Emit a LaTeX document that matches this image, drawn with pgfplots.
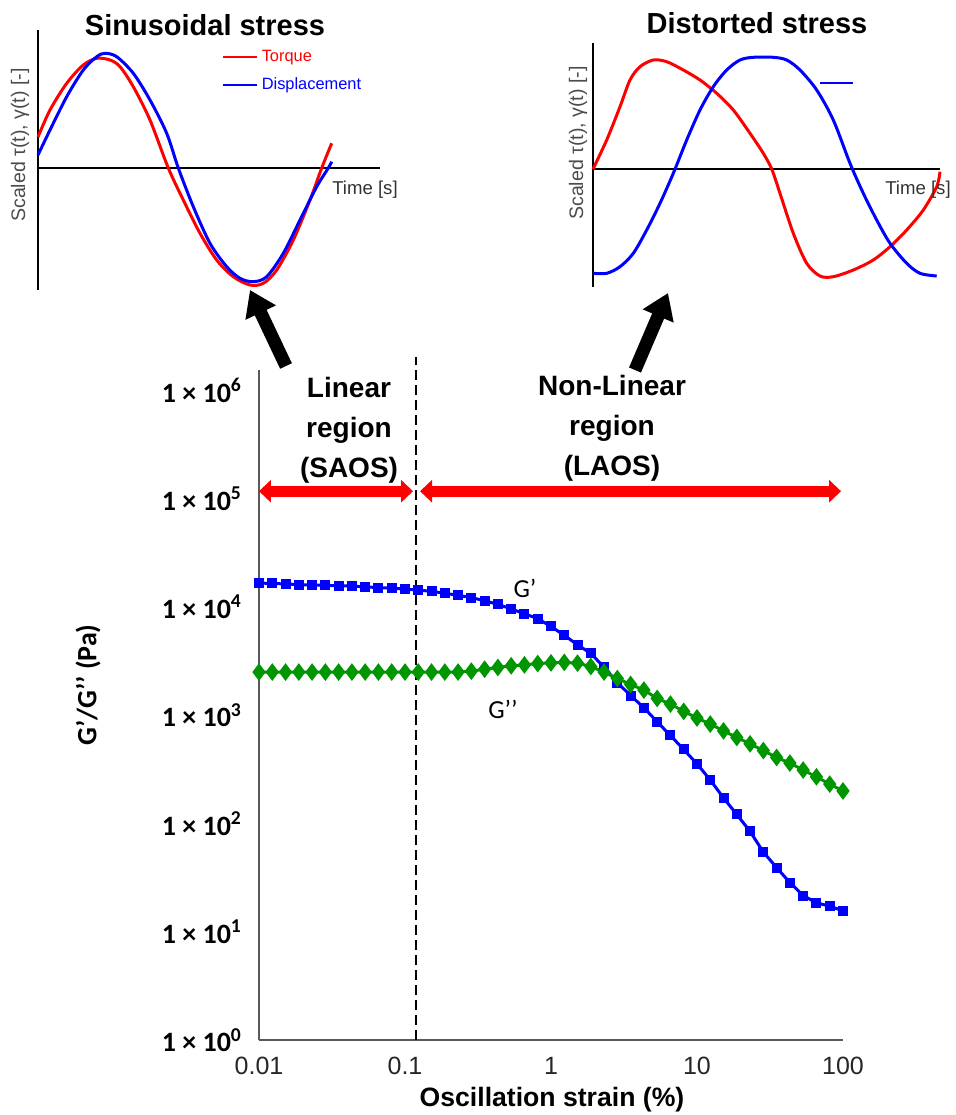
\documentclass[border=0pt]{standalone}
\usepackage{fontspec}
\setmainfont{Liberation Sans}
\newfontfamily\calib{Carlito}
\usepackage{pgfplots}
\pgfplotsset{compat=1.18}
\usetikzlibrary{arrows.meta}
\definecolor{gblue}{RGB}{0,0,255}
\definecolor{ggreen}{RGB}{0,150,0}
\definecolor{tred}{RGB}{255,0,0}
\newcommand\fsz[1]{\fontsize{#1}{#1}\selectfont}

\pgfplotsset{
  inset/.style={scale only axis, axis lines=middle,
    axis line style={-, line width=1pt, black},
    xtick=\empty, ytick=\empty, clip=false},
  wave/.style={line width=1.5pt, smooth, no markers},
}

\begin{document}
\begin{tikzpicture}
\path[use as bounding box] (0,0) rectangle (477.5pt,-557.5pt);

% ---------- left inset: sinusoidal stress
\begin{axis}[inset, at={(19pt,-145pt)}, anchor=south west,
  width=171pt, height=130pt, xmin=0, xmax=3.42, ymin=-1.22, ymax=1.38,
  legend style={at={(0.535,0.94)}, anchor=north west, draw=none, fill=none,
    font=\fsz{8.2}, row sep=2.5pt, inner sep=0pt},
  legend cell align=left,
  legend image code/.code={\draw[#1, line width=1.2pt] (0pt,0pt) -- (17pt,0pt);}]
\addplot[wave, tred] coordinates {(0,0.31)(0.12,0.58)(0.287,0.847)(0.453,1.03)(0.587,1.097)(0.72,1.08)(0.82,1.013)(0.953,0.813)(1.12,0.48)(1.303,0.0)(1.453,-0.32)(1.62,-0.653)(1.787,-0.92)(1.953,-1.087)(2.12,-1.17)(2.253,-1.153)(2.387,-1.02)(2.553,-0.72)(2.72,-0.32)(2.837,0.0)(2.937,0.247)};
\addlegendentry{\textcolor{tred}{Torque}}
\addplot[wave, gblue] coordinates {(0,0.13)(0.12,0.38)(0.287,0.713)(0.453,0.98)(0.587,1.113)(0.67,1.147)(0.787,1.113)(0.953,0.947)(1.12,0.68)(1.287,0.347)(1.403,0.0)(1.553,-0.387)(1.72,-0.753)(1.887,-0.987)(2.02,-1.103)(2.153,-1.137)(2.287,-1.087)(2.453,-0.853)(2.62,-0.52)(2.787,-0.187)(2.903,0.0)(2.937,0.063)};
\addlegendentry{\textcolor{gblue}{Displacement}}
\end{axis}

% ---------- right inset: distorted stress
\begin{axis}[inset, at={(296.5pt,-143.5pt)}, anchor=south west,
  width=173.5pt, height=122pt, xmin=0, xmax=3.47, ymin=-1.18, ymax=1.26]
\addplot[wave, tred] coordinates {(0,0)(0.137,0.29)(0.27,0.623)(0.37,0.89)(0.47,1.023)(0.603,1.09)(0.737,1.073)(0.903,0.99)(1.07,0.89)(1.237,0.757)(1.403,0.59)(1.57,0.357)(1.703,0.157)(1.787,0)(1.87,-0.243)(2.003,-0.643)(2.137,-0.943)(2.27,-1.07)(2.403,-1.077)(2.603,-1.01)(2.803,-0.91)(2.97,-0.777)(3.137,-0.61)(3.303,-0.41)(3.437,-0.177)(3.47,-0.027)};
\addplot[wave, gblue] coordinates {(0,-1.043)(0.137,-1.043)(0.27,-0.977)(0.403,-0.843)(0.537,-0.61)(0.67,-0.343)(0.803,-0.043)(0.937,0.29)(1.07,0.59)(1.203,0.823)(1.337,0.99)(1.47,1.09)(1.603,1.117)(1.803,1.117)(1.937,1.09)(2.07,0.99)(2.237,0.79)(2.403,0.49)(2.57,0.057)(2.703,-0.243)(2.837,-0.51)(2.97,-0.743)(3.137,-0.943)(3.27,-1.043)(3.437,-1.07)};
\addplot[gblue, line width=1.2pt, no markers] coordinates {(2.27,0.86)(2.60,0.86)};
\end{axis}

% inset texts
\node[font=\bfseries\fsz{14.5}] at (102.5pt,-12.5pt) {Sinusoidal stress};
\node[font=\bfseries\fsz{14.5}] at (378.5pt,-11.5pt) {Distorted stress};
\node[font=\fsz{9.8}, text=black!70, rotate=90] at (10pt,-72.5pt) {Scaled τ(t), γ(t) [-]};
\node[font=\fsz{9.8}, text=black!70, rotate=90] at (289pt,-71.5pt) {Scaled τ(t), γ(t) [-]};
\node[font=\fsz{9.3}, text=black!80] at (182.5pt,-95pt) {Time [s]};
\node[font=\fsz{9.3}, text=black!80] at (459pt,-95pt) {Time [s]};

% ---------- main axis
\begin{axis}[at={(129.5pt,-520pt)}, anchor=south west, scale only axis,
  width=292pt, height=335pt, xmode=log, ymode=log,
  xmin=0.01, xmax=100, ymin=1, ymax=1.54e6,
  axis x line*=bottom, axis y line*=left,
  axis line style={-, line width=1pt, black!65},
  tick style={draw=none}, minor tick num=0,
  xtick={0.01,0.1,1,10,100}, xticklabels={0.01,0.1,1,10,100},
  ytick={1,10,100,1000,10000,100000,1000000},
  yticklabels={1 × 10\textsuperscript{0},1 × 10\textsuperscript{1},1 × 10\textsuperscript{2},1 × 10\textsuperscript{3},1 × 10\textsuperscript{4},1 × 10\textsuperscript{5},1 × 10\textsuperscript{6}},
  xticklabel style={font=\fsz{12.5}, text=black!85, yshift=-5pt},
  yticklabel style={font=\calib\bfseries\fsz{14}, anchor=east, xshift=-5pt},
  clip=false]
\draw[line width=1pt, dash pattern=on 5pt off 2.5pt] (axis cs:0.119,1) -- (axis cs:0.119,2.03e6);
\addplot[gblue, line width=1.5pt, mark=square*, mark size=1.75pt] coordinates {
(0.01,16590)(0.01233,16450)(0.01520,16280)(0.01874,16070)(0.02310,15900)(0.02848,15800)(0.03511,15700)(0.04329,15560)(0.05337,15300)(0.06579,15070)(0.08111,14880)(0.1,14600)(0.1233,14290)(0.1520,13900)(0.1874,13380)(0.2310,12770)(0.2848,12190)(0.3511,11380)(0.4329,10570)(0.5337,9563)(0.6579,8655)(0.8111,7780)(1,6605)(1.233,5455)(1.520,4467)(1.874,3712)(2.310,2775)(2.848,1996)(3.511,1517)(4.329,1173)(5.337,867)(6.579,649)(8.111,482)(10,355)(12.33,252)(15.20,172)(18.74,121)(23.10,84.4)(28.48,54.4)(35.11,39.1)(43.29,28.4)(53.37,21.6)(65.79,18.5)(81.11,17.2)(100,15.6)};
\addplot[ggreen, line width=1.5pt, mark=diamond*, mark size=3.2pt] coordinates {
(0.01,2500)(0.01233,2500)(0.01520,2500)(0.01874,2500)(0.02310,2500)(0.02848,2500)(0.03511,2500)(0.04329,2500)(0.05337,2500)(0.06579,2500)(0.08111,2500)(0.1,2500)(0.1233,2500)(0.1520,2500)(0.1874,2500)(0.2310,2500)(0.2848,2549)(0.3511,2659)(0.4329,2757)(0.5337,2858)(0.6579,2914)(0.8111,2996)(1,3040)(1.233,3073)(1.520,3021)(1.874,2811)(2.310,2500)(2.848,2178)(3.511,1921)(4.329,1705)(5.337,1427)(6.579,1266)(8.111,1084)(10,942.4)(12.33,827.7)(15.20,716.1)(18.74,622.6)(23.10,543.3)(28.48,471.2)(35.11,406.8)(43.29,361.2)(53.37,311.2)(65.79,269.4)(81.11,230.7)(100,199.6)};
% region arrows
\draw[tred, line width=5.3pt, {Triangle[width=11pt,length=6pt]}-{Triangle[width=11pt,length=6pt]}] (axis cs:0.01,1.17e5) -- (axis cs:0.1135,1.17e5);
\draw[tred, line width=5.3pt, {Triangle[width=11pt,length=6pt]}-{Triangle[width=11pt,length=6pt]}] (axis cs:0.1268,1.17e5) -- (axis cs:97,1.17e5);
\end{axis}

% region labels
\node[align=center, font=\bfseries\fontsize{14}{20}\selectfont] at (174.5pt,-215pt) {Linear\\region\\(SAOS)};
\node[align=center, font=\bfseries\fontsize{14}{20}\selectfont] at (306pt,-214pt) {Non-Linear\\region\\(LAOS)};
\node[font=\calib\fsz{13}] at (262.5pt,-294pt) {G’};
\node[font=\calib\fsz{13}] at (251.5pt,-354.5pt) {G’’};

% axis titles
\node[font=\bfseries\fsz{13.3}] at (276pt,-550pt) {Oscillation strain (\%)};
\node[font=\calib\bfseries\fsz{14}, rotate=90] at (44pt,-342.5pt) {G’/G’’ (Pa)};

% pointer arrows
\draw[line width=6.5pt, -{Triangle[width=16pt,length=12.5pt]}] (143pt,-183pt) -- (125pt,-145pt);
\draw[line width=6.5pt, -{Triangle[width=16pt,length=12.5pt]}] (317.5pt,-185pt) -- (334pt,-146.5pt);
\end{tikzpicture}
\end{document}
